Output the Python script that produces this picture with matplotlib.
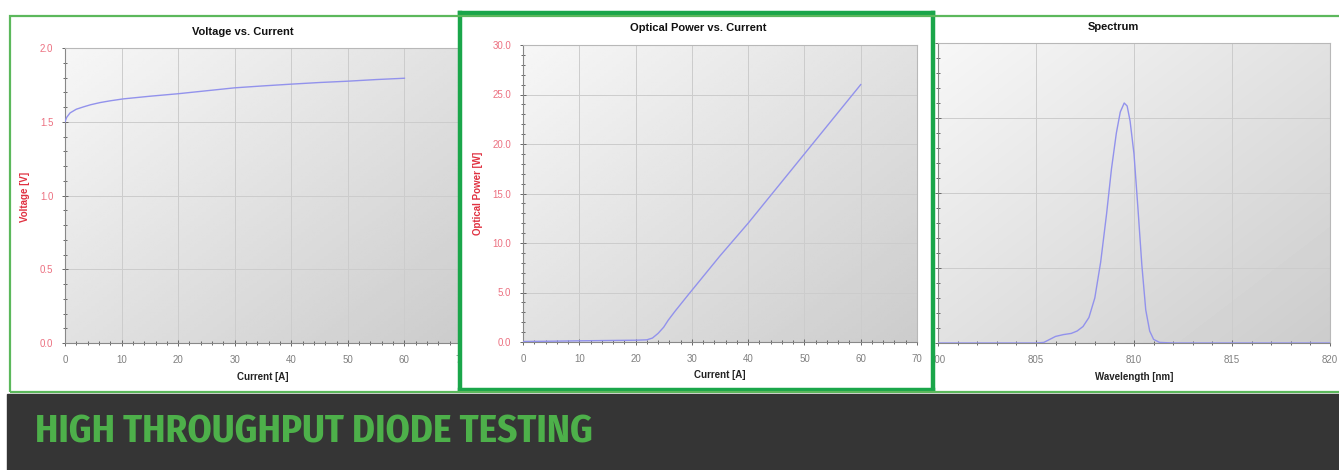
import numpy as np
import matplotlib
matplotlib.use("Agg")
import matplotlib.pyplot as plt
from matplotlib.patches import Rectangle
from matplotlib.ticker import MultipleLocator, FormatStrFormatter

# voltage vs current
iv_current = [0, 0.3, 0.9, 2, 3.2, 4.5, 6.2, 8, 10.3, 15, 20, 25, 30, 35, 40, 45, 50, 55, 60]
iv_voltage = [1.50, 1.53, 1.56, 1.585, 1.60, 1.615, 1.63, 1.642, 1.655, 1.673, 1.69, 1.71, 1.73, 1.743, 1.755, 1.766, 1.775, 1.786, 1.795]

# optical power vs current
li_current = [0, 5, 10, 15, 20, 22, 23, 24, 25, 25.8, 27, 29.4, 35, 40, 45, 50, 55, 60]
li_power = [0.05, 0.08, 0.12, 0.15, 0.18, 0.22, 0.4, 0.87, 1.5, 2.2, 3.1, 4.8, 8.7, 12.0, 15.5, 19.0, 22.5, 26.0]

# spectrum (normalised)
wavelength = [800, 805, 805.4, 805.7, 806.0, 806.4, 806.8, 807.1, 807.4, 807.7, 808.0, 808.3, 808.6,
              808.85, 809.1, 809.3, 809.5, 809.65, 809.8, 810.0, 810.2, 810.4, 810.6, 810.8, 811.0,
              811.3, 812, 820]
intensity = [0, 0, 0.002, 0.012, 0.022, 0.028, 0.032, 0.04, 0.055, 0.085, 0.15, 0.27, 0.43,
             0.58, 0.70, 0.77, 0.80, 0.79, 0.74, 0.63, 0.45, 0.26, 0.11, 0.04, 0.012,
             0.002, 0, 0]

W, H = 1339, 470
fig = plt.figure(figsize=(W / 100, H / 100), dpi=100)
fig.patch.set_facecolor("white")

line_col = "#9292ec"
label_red = "#e03040"
tick_red = "#ec7080"
green_light = "#5cb85c"
green_dark = "#1aa64a"


def fx(x):
    return x / W


def fy(y):
    return 1 - y / H


def box(x0, y0, x1, y1):
    return [fx(x0), fy(y1), fx(x1) - fx(x0), fy(y0) - fy(y1)]


grad = np.add.outer(np.linspace(0, 1, 100), np.linspace(0, 1, 100)) / 2


def style(ax):
    ax.imshow(grad, extent=(0, 1, 0, 1), transform=ax.transAxes, cmap="gray_r",
              vmin=-0.2, vmax=5.8, aspect="auto", zorder=0, interpolation="bilinear")
    ax.set_axisbelow(True)
    ax.grid(True, which="major", color="#cccccc", lw=0.7)
    for s in ["top", "right"]:
        ax.spines[s].set_color("#b8b8b8")
        ax.spines[s].set_linewidth(0.8)
    for s in ["left", "bottom"]:
        ax.spines[s].set_color("#888888")
        ax.spines[s].set_linewidth(0.8)
    ax.tick_params(which="both", direction="inout", color="#666666", width=0.7)
    ax.tick_params(which="major", length=5)
    ax.tick_params(which="minor", length=3)
    ax.tick_params(axis="x", labelsize=7, labelcolor="#808080", pad=6)
    ax.tick_params(axis="y", labelsize=7, labelcolor=tick_red, pad=6)
    for t in ax.get_xticklabels() + ax.get_yticklabels():
        t.set_family("Liberation Sans")


# outer light green frame
fig.patches.append(Rectangle((fx(10), fy(392)), fx(1345) - fx(10), fy(16) - fy(392),
                             transform=fig.transFigure, fill=False, ec=green_light, lw=1.6))

# left panel
ax1 = fig.add_axes(box(65, 48, 461, 343))
ax1.plot(iv_current, iv_voltage, color=line_col, lw=1.0, zorder=3)
ax1.set_xlim(0, 70)
ax1.set_ylim(0, 2.0)
ax1.xaxis.set_major_locator(MultipleLocator(10))
ax1.xaxis.set_minor_locator(MultipleLocator(2))
ax1.yaxis.set_major_locator(MultipleLocator(0.5))
ax1.yaxis.set_minor_locator(MultipleLocator(0.1))
ax1.yaxis.set_major_formatter(FormatStrFormatter("%.1f"))
style(ax1)

# right panel
ax3 = fig.add_axes(box(938, 43, 1330, 343))
ax3.plot(wavelength, intensity, color=line_col, lw=1.0, zorder=3)
ax3.set_xlim(800, 820)
ax3.set_ylim(0, 1.0)
ax3.xaxis.set_major_locator(MultipleLocator(5))
ax3.xaxis.set_minor_locator(MultipleLocator(1))
ax3.yaxis.set_major_locator(MultipleLocator(0.25))
ax3.yaxis.set_minor_locator(MultipleLocator(0.05))
style(ax3)
ax3.set_yticklabels([])

# middle panel frame (covers neighbours)
frame = fig.add_axes(box(460, 13, 933, 390))
frame.set_xticks([])
frame.set_yticks([])
frame.set_facecolor("white")
for s in frame.spines.values():
    s.set_color(green_dark)
    s.set_linewidth(3.2)

ax2 = fig.add_axes(box(523, 45, 917, 342))
ax2.plot(li_current, li_power, color=line_col, lw=1.0, zorder=3)
ax2.set_xlim(0, 70)
ax2.set_ylim(0, 30)
ax2.xaxis.set_major_locator(MultipleLocator(10))
ax2.xaxis.set_minor_locator(MultipleLocator(2))
ax2.yaxis.set_major_locator(MultipleLocator(5))
ax2.yaxis.set_minor_locator(MultipleLocator(1))
ax2.yaxis.set_major_formatter(FormatStrFormatter("%.1f"))
style(ax2)

# titles and labels
tkw = dict(family="Liberation Sans", fontweight="bold", ha="center", va="center")
fig.text(fx(243), fy(32), "Voltage vs. Current", fontsize=8, color="#111111", **tkw)
fig.text(fx(698), fy(28), "Optical Power vs. Current", fontsize=8, color="#111111", **tkw)
fig.text(fx(1113), fy(27), "Spectrum", fontsize=8, color="#111111", **tkw)
fig.text(fx(263), fy(377), "Current [A]", fontsize=7, color="#222222", **tkw)
fig.text(fx(720), fy(375), "Current [A]", fontsize=7, color="#222222", **tkw)
fig.text(fx(1134), fy(377), "Wavelength [nm]", fontsize=7, color="#222222", **tkw)
fig.text(fx(25), fy(197), "Voltage [V]", fontsize=7, color=label_red, rotation=90, **tkw)
fig.text(fx(478), fy(193), "Optical Power [W]", fontsize=7, color=label_red, rotation=90, **tkw)

# bottom banner
fig.patches.append(Rectangle((fx(7), 0), 1 - fx(7), fy(394), transform=fig.transFigure,
                             color="#353535", zorder=5))
fig.text(fx(35), fy(432), "HIGH THROUGHPUT DIODE TESTING", fontsize=28, fontweight="bold",
         family=["Fira Sans Condensed", "Asap Condensed", "DejaVu Sans"], color="#4db04a",
         ha="left", va="center", zorder=6)

fig.savefig("out.png", dpi=100)
